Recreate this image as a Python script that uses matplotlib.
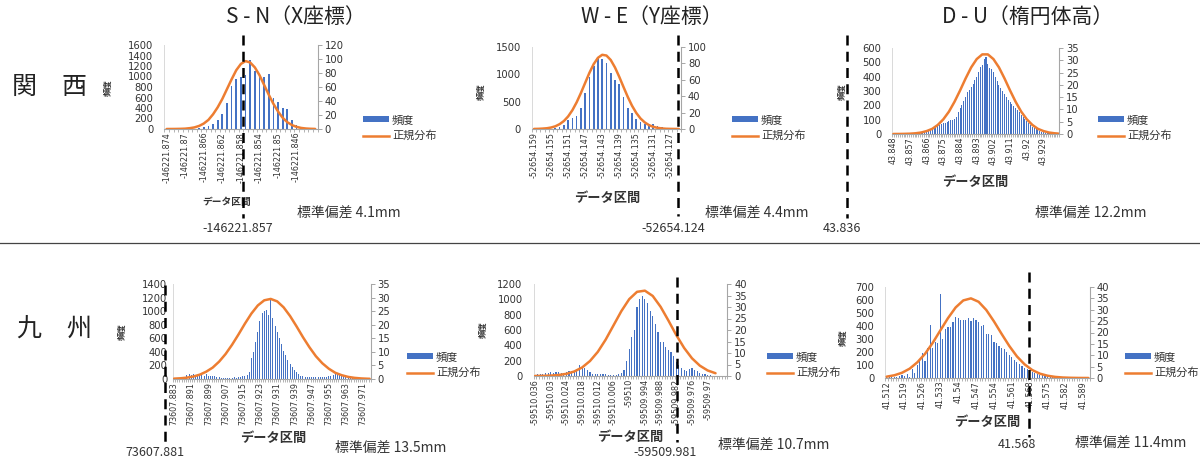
import numpy as np
import matplotlib
matplotlib.use("Agg")
import matplotlib.pyplot as plt
from matplotlib import transforms
from matplotlib.lines import Line2D
from matplotlib.patches import Patch

plt.rcParams['font.family'] = ['Noto Sans CJK JP', 'DejaVu Sans']

# ---------------- 関西 ----------------
# S-N (X座標), bins of 1 mm
ks_sn_freq = [0, 0, 1, 2, 3, 5, 8, 15, 30, 60, 100, 170, 290, 500, 820, 950, 1000,
              1030, 1320, 1100, 1030, 1000, 1050, 600, 520, 400, 380, 180, 80, 40, 15, 5, 2]
ks_sn_curve = [0.0, 0.04, 0.1, 0.24, 0.5, 1.2, 2.3, 4.4, 7.8, 13, 21, 31, 43, 57, 71, 84, 93,
               97, 95, 88, 77, 63, 49, 36, 25, 16, 9.7, 5.6, 3.0, 1.5, 0.7, 0.3, 0.1]
ks_sn_curve_at = list(range(33))
ks_sn_ticks = ['-146221.874', '-146221.87', '-146221.866', '-146221.862',
               '-146221.858', '-146221.854', '-146221.85', '-146221.846']

# W-E (Y座標)
ks_we_freq = [0, 0, 1, 2, 5, 20, 40, 80, 170, 200, 240, 390, 650, 950, 1150, 1300, 1280,
              1200, 1030, 900, 820, 580, 380, 300, 190, 130, 90, 100, 100, 60, 30, 10, 3, 1, 0]
ks_we_curve = [0.09, 0.2, 0.5, 0.9, 1.8, 3.3, 5.9, 9.7, 15.3, 22.9, 32.5, 43.9, 56.2, 68.5,
               79.1, 86.8, 90.5, 89.6, 84.2, 75.1, 63.7, 51.3, 39.2, 28.4, 19.6, 12.8, 8.0,
               4.7, 2.6, 1.4, 0.7, 0.3, 0.15, 0.07, 0.03]
ks_we_curve_at = list(range(35))
ks_we_ticks = ['-52654.159', '-52654.155', '-52654.151', '-52654.147', '-52654.143',
               '-52654.139', '-52654.135', '-52654.131', '-52654.127']

# D-U (楕円体高)
ks_du_freq = [0, 0, 1, 1, 2, 2, 3, 3, 4, 5,
              5, 6, 8, 10, 12, 15, 18, 20, 25, 28,
              32, 38, 45, 55, 60, 65, 70, 75, 80, 85,
              90, 95, 100, 105, 120, 150, 180, 200, 230, 260,
              290, 310, 330, 350, 380, 400, 430, 470, 480, 520,
              540, 490, 460, 450, 430, 400, 370, 340, 320, 300,
              280, 260, 240, 225, 210, 195, 180, 165, 150, 135,
              120, 105, 90, 75, 60, 50, 40, 32, 25, 20,
              15, 12, 8, 6, 5, 3, 2, 1, 1, 0]
ks_du_curve = [0.01, 0.02, 0.06, 0.13, 0.29, 0.6, 1.2, 2.1, 3.7, 6.0, 9.1, 13.1, 17.7, 22.6,
               27.1, 30.5, 32.4, 32.4, 30.5, 27.1, 22.6, 17.7, 13.1, 9.1, 6.0, 3.7, 2.1, 1.2,
               0.6, 0.29, 0.17]
ks_du_curve_at = list(range(0, 90, 3)) + [89]
ks_du_ticks = ['43.848', '43.857', '43.866', '43.875', '43.884', '43.893', '43.902',
               '43.911', '43.92', '43.929']

# ---------------- 九州 ----------------
ky_sn_freq = [15, 15, 20, 20, 30, 30, 60, 80, 60, 70,
              50, 60, 70, 60, 50, 70, 50, 40, 50, 50,
              30, 25, 20, 20, 20, 20, 15, 20, 25, 20,
              25, 30, 40, 40, 60, 100, 310, 400, 550, 700,
              850, 980, 1000, 1020, 950, 1180, 900, 780, 700, 600,
              520, 420, 350, 280, 220, 170, 130, 100, 70, 50,
              40, 35, 30, 30, 35, 30, 30, 35, 35, 30,
              30, 35, 40, 50, 60, 70, 80, 70, 60, 50,
              30, 25, 20, 20, 15, 15, 10, 10, 10, 8,
              5, 5]
ky_sn_curve = [0.13, 0.26, 0.5, 0.91, 1.6, 2.7, 4.2, 6.4, 9.2, 12.6, 16.4, 20.4, 24.1, 27.1,
               29.0, 29.5, 28.6, 26.4, 23.2, 19.4, 15.4, 11.7, 8.4, 5.8, 3.8, 2.3, 1.4, 0.78,
               0.42, 0.21, 0.1, 0.08]
ky_sn_curve_at = list(range(0, 91, 3)) + [91]
ky_sn_ticks = ['73607.883', '73607.891', '73607.899', '73607.907', '73607.915', '73607.923',
               '73607.931', '73607.939', '73607.947', '73607.955', '73607.963', '73607.971']

ky_we_freq = [10, 20, 20, 30, 40, 45, 50, 45, 50, 50,
              45, 45, 50, 60, 60, 70, 90, 150, 130, 110,
              80, 50, 30, 25, 25, 20, 20, 20, 15, 15,
              15, 15, 20, 40, 80, 200, 350, 510, 600, 900,
              1000, 1040, 1000, 950, 850, 780, 680, 580, 450, 440,
              380, 340, 310, 260, 180, 150, 100, 80, 70, 90,
              110, 80, 60, 40, 30, 20, 10, 8, 5, 5,
              3, 2, 1, 1]
ky_we_curve = [0.02, 0.07, 0.18, 0.43, 0.95, 1.96, 3.7, 6.5, 10.5, 15.8, 22.0, 28.2, 33.4,
               36.6, 37.1, 34.8, 30.1, 24.1, 17.8, 12.2, 7.7, 4.5, 2.4, 1.2]
ky_we_curve_at = list(range(0, 70, 3))
ky_we_ticks = ['-59510.036', '-59510.03', '-59510.024', '-59510.018', '-59510.012',
               '-59510.006', '-59510', '-59509.994', '-59509.988', '-59509.982',
               '-59509.976', '-59509.97']

ky_du_freq = [15, 10, 10, 10, 10, 15, 20, 15, 30, 10,
              70, 40, 100, 150, 190, 130, 230, 410, 230, 280,
              270, 650, 300, 375, 390, 395, 430, 470, 460, 450,
              450, 450, 460, 440, 460, 450, 430, 400, 410, 340,
              340, 330, 280, 270, 250, 230, 220, 200, 180, 160,
              140, 120, 110, 90, 80, 70, 60, 50, 40, 30,
              25, 20, 15, 12, 10, 8, 6, 5, 4, 3,
              3, 2, 2, 1, 1, 1, 0, 0, 0, 0]
ky_du_curve = [0.59, 1.2, 2.3, 4.1, 6.9, 10.6, 15.4, 20.9, 26.3, 31.0, 34.1, 35.0, 33.5,
               29.9, 24.9, 19.4, 14.1, 9.5, 6.0, 3.5, 1.9, 1.0, 0.48, 0.21, 0.09, 0.03,
               0.01, 0.01]
ky_du_curve_at = list(range(0, 79, 3)) + [79]
ky_du_ticks = ['41.512', '41.519', '41.526', '41.533', '41.54', '41.547', '41.554',
               '41.561', '41.568', '41.575', '41.582', '41.589']

col_titles = ['S - N（X座標）', 'W - E（Y座標）', 'D - U（楕円体高）']
row_titles = ['関　西', '九　州']

BAR = '#4472C4'
CURVE = '#ED7D31'
AXC = '#A6A6A6'
TXT = '#333333'
W, H = 1200, 459

fig = plt.figure(figsize=(W / 100, H / 100), dpi=100)


def fx(px):
    return px / W


def fy(py):
    return 1 - py / H


# layout per panel, in pixels of the 1200x459 canvas
panels = [
    dict(freq=ks_sn_freq, curve=ks_sn_curve, at=ks_sn_curve_at, ticks=ks_sn_ticks, every=4,
         box=(164.3, 45, 317.5, 129), ylim=(1600, 200), y2lim=(120, 20), bw=0.38, ypad=8,
         vline=16.4, vspan=(35, 218), vtext='-146221.857', vty=228, vdx=-5,
         legend=(363, 128), std=('標準偏差 4.1mm', 297, 213), xlab=(227, 202, 7), ylab=(108, 88)),
    dict(freq=ks_we_freq, curve=ks_we_curve, at=ks_we_curve_at, ticks=ks_we_ticks, every=4,
         box=(531.9, 47, 681, 129), ylim=(1500, 500), y2lim=(100, 20), bw=0.4, ypad=8,
         vline=33.9, vspan=(35, 216), vtext='-52654.124', vty=228, vdx=-5,
         legend=(732, 128), std=('標準偏差 4.4mm', 705, 213), xlab=(607, 198, 9.5), ylab=(481, 92)),
    dict(freq=ks_du_freq, curve=ks_du_curve, at=ks_du_curve_at, ticks=ks_du_ticks, every=9,
         box=(892.4, 48, 1059.2, 134), ylim=(600, 100), y2lim=(35, 5), bw=0.55, ypad=8,
         vline=-25, vspan=(35, 218), vtext='43.836', vty=228, vdx=-5,
         legend=(1098, 128), std=('標準偏差 12.2mm', 1035, 213), xlab=(975, 182, 9.5), ylab=(842, 92)),
    dict(freq=ky_sn_freq, curve=ky_sn_curve, at=ky_sn_curve_at, ticks=ky_sn_ticks, every=8,
         box=(172.9, 284, 370.7, 379), ylim=(1400, 200), y2lim=(35, 5), bw=0.45, ypad=4,
         vline=-4.2, vspan=(285, 442), vtext='73607.881', vty=452, vdx=-10,
         legend=(407, 365), std=('標準偏差 13.5mm', 335, 448), xlab=(273, 438, 9.5), ylab=(122, 332)),
    dict(freq=ky_we_freq, curve=ky_we_curve, at=ky_we_curve_at, ticks=ky_we_ticks, every=6,
         box=(533.7, 284, 727.3, 376), ylim=(1200, 200), y2lim=(40, 5), bw=0.45, ypad=8,
         vline=54.2, vspan=(277, 442), vtext='-59509.981', vty=452, vdx=-12,
         legend=(767, 365), std=('標準偏差 10.7mm', 718, 445), xlab=(630, 437, 9.5), ylab=(483, 330)),
    dict(freq=ky_du_freq, curve=ky_du_curve, at=ky_du_curve_at, ticks=ky_du_ticks, every=7,
         box=(885.4, 287, 1089.7, 378), ylim=(700, 100), y2lim=(40, 5), bw=0.45, ypad=8,
         vline=55.7, vspan=(272, 437), vtext='41.568', vty=445, vdx=-12,
         legend=(1125, 365), std=('標準偏差 11.4mm', 1075, 443), xlab=(987, 422, 9.5), ylab=(843, 338)),
]

for p in panels:
    l, t, r, b = p['box']
    ax = fig.add_axes([fx(l), fy(b), (r - l) / W, (b - t) / H])
    n = len(p['freq'])
    ax.bar(range(n), p['freq'], width=p['bw'], color=BAR, zorder=2)
    ax.set_xlim(-0.5, n - 0.5)
    ax.set_ylim(0, p['ylim'][0])
    ax.set_yticks(np.arange(0, p['ylim'][0] + 1, p['ylim'][1]))
    ax.set_xticks(range(0, len(p['ticks']) * p['every'], p['every']))
    ax.set_xticklabels(p['ticks'], rotation=90)
    ax.set_xticks(np.arange(-0.5, n, 1), minor=True)
    ax.tick_params(axis='x', which='major', length=0, pad=2, labelsize=5.8,
                   labelcolor=TXT, labelfontfamily='DejaVu Sans')
    ax.tick_params(axis='x', which='minor', length=2.5, width=0.6, color=AXC)
    ax.tick_params(axis='y', length=0, pad=p['ypad'], labelsize=7.2,
                   labelcolor=TXT, labelfontfamily='DejaVu Sans')
    for s in ['top', 'right']:
        ax.spines[s].set_visible(False)
    ax.spines['left'].set_color('#D9D9D9')
    ax.spines['left'].set_linewidth(0.7)
    ax.spines['bottom'].set_color(AXC)
    ax.spines['bottom'].set_linewidth(0.8)

    ax.set_xlabel('データ区間', fontsize=p['xlab'][2], fontweight='bold', color=TXT)
    ax.xaxis.set_label_coords(fx(p['xlab'][0]), fy(p['xlab'][1]), transform=fig.transFigure)
    ax.xaxis.label.set_verticalalignment('center')
    ax.set_ylabel('頻度', fontsize=6, fontweight='bold', color=TXT)
    ax.yaxis.set_label_coords(fx(p['ylab'][0]), fy(p['ylab'][1]), transform=fig.transFigure)
    ax.yaxis.label.set_verticalalignment('center')

    ax2 = ax.twinx()
    ax2.plot(p['at'], p['curve'], color=CURVE, lw=1.8, solid_capstyle='round')
    ax2.set_ylim(0, p['y2lim'][0])
    ax2.set_yticks(np.arange(0, p['y2lim'][0] + 1, p['y2lim'][1]))
    ax2.tick_params(axis='y', length=3, width=0.7, color=AXC, pad=2, labelsize=7.2,
                    labelcolor=TXT, labelfontfamily='DejaVu Sans')
    for s in ['top', 'left', 'bottom']:
        ax2.spines[s].set_visible(False)
    ax2.spines['right'].set_color(AXC)
    ax2.spines['right'].set_linewidth(0.8)
    ax2.set_xlim(-0.5, n - 0.5)
    ax2.set_autoscale_on(False)

    # dashed marker line with its value
    trans = transforms.blended_transform_factory(ax2.transData, fig.transFigure)
    ax2.plot([p['vline'], p['vline']], [fy(p['vspan'][0]), fy(p['vspan'][1])],
             transform=trans, clip_on=False, color='black', lw=1.8, dashes=(4, 2.5), zorder=10)
    ttrans = transforms.offset_copy(trans, fig=fig, x=p['vdx'], y=0, units='dots')
    ax2.text(p['vline'], fy(p['vty']), p['vtext'], transform=ttrans, ha='center', va='center',
             fontsize=9, color=TXT, clip_on=False)

    handles = [Patch(facecolor=BAR, edgecolor='none'), Line2D([], [], color=CURVE, lw=1.8)]
    ax2.legend(handles, ['頻度', '正規分布'], loc='center left',
               bbox_to_anchor=(fx(p['legend'][0]), fy(p['legend'][1])),
               bbox_transform=fig.transFigure, frameon=False, fontsize=8,
               handlelength=2.3, handleheight=0.42, handletextpad=0.3,
               labelspacing=0.5, borderaxespad=0, borderpad=0, labelcolor=TXT)

    fig.text(fx(p['std'][1]), fy(p['std'][2]), p['std'][0], fontsize=10, va='center', color=TXT)

for title, cx in zip(col_titles, [296, 652, 1028]):
    fig.text(fx(cx), fy(17), title, ha='center', va='center', fontsize=15, color='#222222')

fig.text(fx(49), fy(87), row_titles[0], ha='center', va='center', fontsize=18, color='#222222')
fig.text(fx(55), fy(329), row_titles[1], ha='center', va='center', fontsize=18, color='#222222')

fig.add_artist(Line2D([0, 1], [fy(243), fy(243)], color='#444444', lw=0.9))

fig.savefig('out.png', dpi=100)
